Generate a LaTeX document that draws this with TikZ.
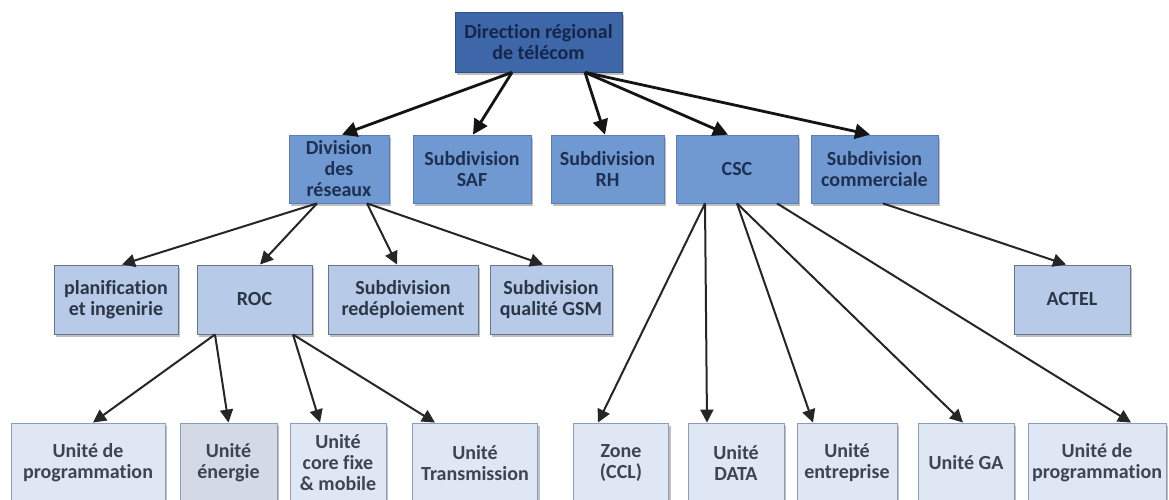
\documentclass[tikz,border=0pt]{standalone}
\usepackage{fontspec}
\setmainfont{Carlito}[Ligatures={NoCommon}]
\usetikzlibrary{arrows.meta,shadows}
\definecolor{c1fill}{HTML}{3D67A8}
\definecolor{c1text}{HTML}{15264A}
\definecolor{c2fill}{HTML}{7099D2}
\definecolor{c2draw}{HTML}{5A7FB8}
\definecolor{c2text}{HTML}{1E3052}
\definecolor{c3fill}{HTML}{B7CAE8}
\definecolor{c3draw}{HTML}{66758C}
\definecolor{c3text}{HTML}{2C3646}
\definecolor{c4fill}{HTML}{DEE7F3}
\definecolor{c4draw}{HTML}{8A9EBB}
\definecolor{c4text}{HTML}{3E4552}
\definecolor{c4gray}{HTML}{D3DAE5}
\tikzset{
  box/.style={rectangle, inner sep=0pt, align=center,
    font=\fontsize{20}{21}\selectfont\bfseries,
    drop shadow={shadow xshift=2pt, shadow yshift=-2.5pt, opacity=0.25, fill=black}},
  lvla/.style={box, fill=c1fill, draw=c1fill!80!black, line width=0.8pt, text=c1text,
    minimum width=167pt, minimum height=60pt},
  lvlb/.style={box, fill=c2fill, draw=c2draw, line width=0.8pt, text=c2text,
    minimum height=68pt},
  lvlc/.style={box, fill=c3fill, draw=c3draw, line width=1pt, text=c3text,
    minimum height=69pt},
  lvld/.style={box, fill=c4fill, draw=c4draw, line width=0.9pt, text=c4text,
    minimum height=80pt},
  toparrow/.style={draw=black!92, line width=2.8pt, -{Triangle[length=15pt,width=15pt]}},
  subarrow/.style={draw=black!85, line width=2pt, -{Triangle[length=13pt,width=13pt]}},
}
\begin{document}
\begin{tikzpicture}[x=1pt,y=-1pt]
\clip (0,0) rectangle (1169,499);
\fill[white] (0,0) rectangle (1169,499);
% level 1
\node[lvla] (top) at (538.5,42) {Direction régional\\de télécom};
% level 2
\node[lvlb, minimum width=100pt] (div) at (339,169) {Division\\des\\réseaux};
\node[lvlb, minimum width=118pt] (saf) at (472,169) {Subdivision\\SAF};
\node[lvlb, minimum width=113pt] (rh) at (607.5,169) {Subdivision\\RH};
\node[lvlb, minimum width=122pt] (csc) at (737,169) {CSC};
\node[lvlb, minimum width=127pt] (com) at (874.5,169) {Subdivision\\commerciale};
% level 3
\node[lvlc, minimum width=124pt] (plan) at (116,299.5) {planification\\et ingenirie};
\node[lvlc, minimum width=115pt] (roc) at (254.5,299.5) {ROC};
\node[lvlc, minimum width=150pt] (red) at (403,299.5) {Subdivision\\redéploiement};
\node[lvlc, minimum width=122pt] (gsm) at (551,299.5) {Subdivision\\qualité GSM};
\node[lvlc, minimum width=116pt] (actel) at (1072,299.5) {ACTEL};
% level 4
\node[lvld, minimum width=154pt] (u1) at (88,463) {Unité de\\programmation};
\node[lvld, minimum width=97pt, fill=c4gray] (ener) at (228.5,463) {Unité\\énergie};
\node[lvld, minimum width=96pt] (core) at (338,463) {Unité\\core fixe\\\& mobile};
\node[lvld, minimum width=125pt] (trans) at (475,463) {Unité\\Transmission};
\node[lvld, minimum width=95pt] (zone) at (621,463) {Zone\\(CCL)};
\node[lvld, minimum width=96pt] (data) at (736,463) {Unité\\DATA};
\node[lvld, minimum width=100pt] (entr) at (847,463) {Unité\\entreprise};
\node[lvld, minimum width=96pt] (ga) at (966,463) {Unité GA};
\node[lvld, minimum width=138pt] (prog) at (1097,463) {Unité de\\programmation};
% arrows from top
\draw[toparrow] ([xshift=-26.5pt]top.south) -- ([xshift=3pt]div.north);
\draw[toparrow] ([xshift=-26.5pt]top.south) -- ([xshift=1pt]saf.north);
\draw[toparrow] ([xshift=46.5pt]top.south) -- ([xshift=-2.5pt]rh.north);
\draw[toparrow] ([xshift=46.5pt]top.south) -- ([xshift=-9pt]csc.north);
\draw[toparrow] ([xshift=46.5pt]top.south) -- ([xshift=-4.5pt]com.north);
% from Division
\draw[subarrow] ([xshift=-22pt]div.south) -- ([xshift=6pt]plan.north);
\draw[subarrow] ([xshift=-22pt]div.south) -- ([xshift=5.5pt]roc.north);
\draw[subarrow] ([xshift=28pt]div.south) -- ([xshift=-6pt]red.north);
\draw[subarrow] ([xshift=28pt]div.south) -- ([xshift=-8pt]gsm.north);
% from commerciale
\draw[subarrow] ([xshift=8.5pt]com.south) -- ([xshift=-6pt]actel.north);
% from CSC
\draw[subarrow] ([xshift=-32pt]csc.south) -- ([xshift=-23pt]zone.north);
\draw[subarrow] ([xshift=-32pt]csc.south) -- ([xshift=-29pt]data.north);
\draw[subarrow] (csc.south) -- ([xshift=-34pt]entr.north);
\draw[subarrow] (csc.south) -- ([xshift=-3pt]ga.north);
\draw[subarrow] ([xshift=40pt]csc.south) -- ([xshift=34pt]prog.north);
% from ROC
\draw[subarrow] ([xshift=-39.5pt]roc.south) -- ([xshift=5pt]u1.north);
\draw[subarrow] ([xshift=-39.5pt]roc.south) -- (ener.north);
\draw[subarrow] ([xshift=38.5pt]roc.south) -- ([xshift=-18pt]core.north);
\draw[subarrow] ([xshift=38.5pt]roc.south) -- ([xshift=-40pt]trans.north);
\end{tikzpicture}
\end{document}
